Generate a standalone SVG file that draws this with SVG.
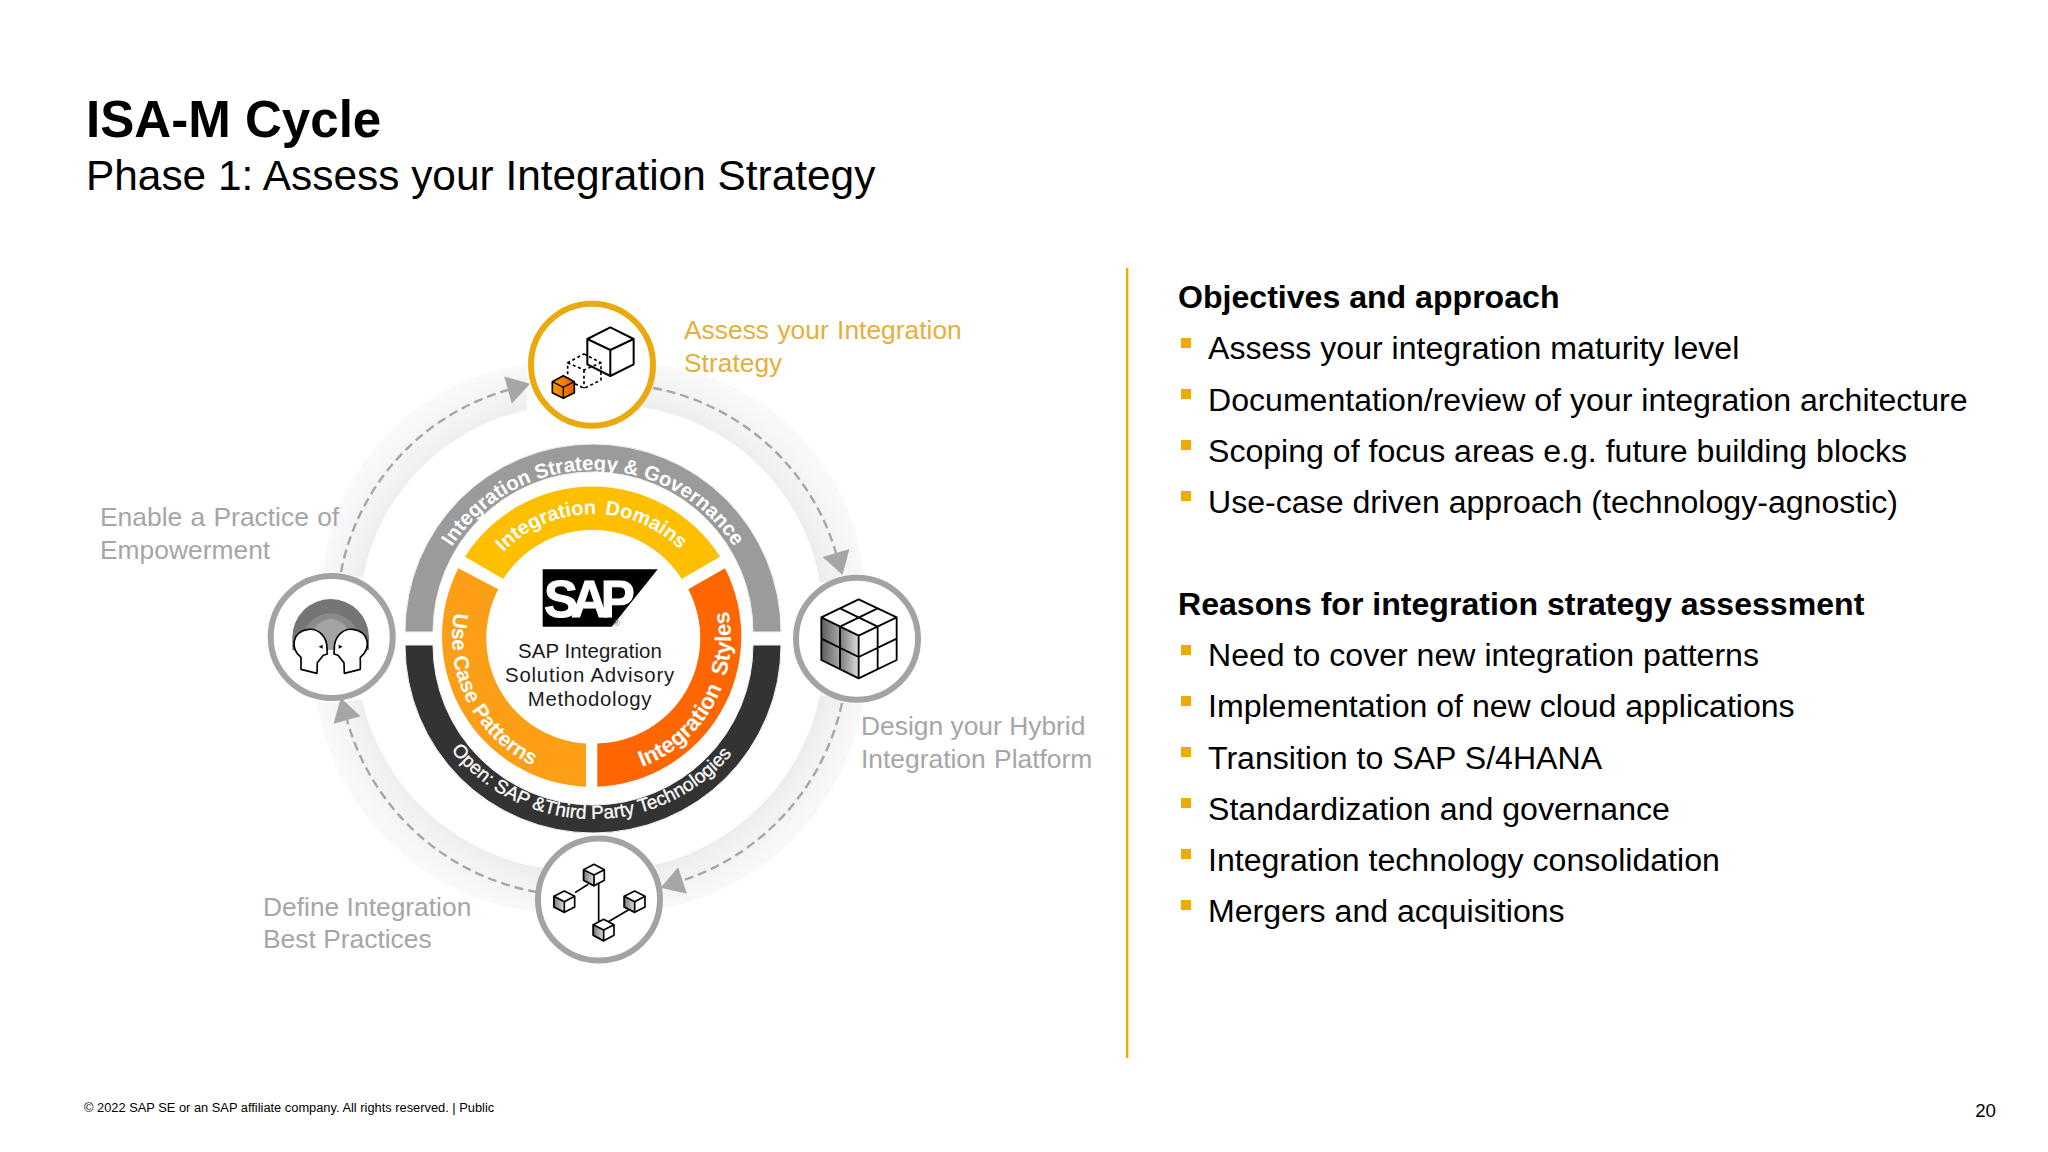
<svg xmlns="http://www.w3.org/2000/svg" width="2048" height="1152" viewBox="0 0 2048 1152">
<style>
text{font-family:"Liberation Sans",Arial,sans-serif}
.title{font-size:51.1px;font-weight:700;fill:#000}
.sub{font-size:42.4px;fill:#000}
.h{font-size:32.1px;font-weight:700;fill:#000}
.b{font-size:32.1px;fill:#000}
.bul{fill:#f0ab00}
.lab{font-size:26.4px;fill:#a6a6a6}
.gold{fill:#e6ae3a}
.ctr{font-size:20.4px;fill:#1a1a1a;text-anchor:middle}
.wt{fill:#fff;font-weight:700}
.dash{fill:none;stroke:#a6a6a6;stroke-width:2.4;stroke-dasharray:9 5;marker-end:url(#ah)}
.band{fill:url(#bg)}
.nc{fill:#fff;stroke:#a3a3a3;stroke-width:6}
.ic{stroke:#000;stroke-width:5;stroke-linejoin:round;fill:#fff}
.seg{stroke:#f0f0f0;stroke-width:1}
</style>
<defs>
<radialGradient id="bg" gradientUnits="userSpaceOnUse" cx="593" cy="638" r="295">
<stop offset=".76" stop-color="#e8e8e8"/><stop offset=".84" stop-color="#f1f1f1"/><stop offset=".93" stop-color="#f7f7f7"/><stop offset="1" stop-color="#fbfbfb"/>
</radialGradient>
<linearGradient id="or" x1="0" x2="1" y1="0" y2="0"><stop offset="0" stop-color="#ff9a00"/><stop offset="1" stop-color="#e65c00"/></linearGradient>
<linearGradient id="g1" x1="0" x2="1" y1="0" y2="0"><stop offset="0" stop-color="#5f5f5f"/><stop offset="1" stop-color="#a8a8a8"/></linearGradient>
<linearGradient id="g2" x1="0" x2="1" y1="0" y2="0"><stop offset="0" stop-color="#7a7a7a"/><stop offset="1" stop-color="#dddddd"/></linearGradient>
<marker id="ah" markerUnits="userSpaceOnUse" markerWidth="26" markerHeight="30" refX="0" refY="14" orient="auto" overflow="visible"><path d="M0,0 L23,14 L0,28Z" fill="#a6a6a6"/></marker>
<path id="pTop" d="M425,638 A168,168 0 0 1 761,638"/>
<path id="pBot" d="M412,638 A181,181 0 0 0 774,638"/>
<path id="pDom" d="M469,638 A124,124 0 0 1 717,638"/>
<path id="pSty" d="M593,776 A138,138 0 0 0 593,500"/>
<path id="pUse" d="M593,497 A141,141 0 0 0 593,779"/>
<g id="cb">
<path class="ic" style="fill:#fff" d="M0,-32 L31,-16 L31,16 L0,32 L-31,16 L-31,-16Z"/>
<path d="M-31,-16 L0,0 L0,32 L-31,16Z" fill="url(#g2)" stroke="#000" stroke-width="5" stroke-linejoin="round"/>
<path d="M0,0 L31,-16" stroke="#000" stroke-width="5" fill="none"/>
</g>
<path id="head" d="M153,322 C120,295 125,245 175,238 C210,235 232,265 231,296 L232,312 L220,316 L202,338 L201,370 L153,358Z" fill="#fff" stroke="#000" stroke-width="5" stroke-linejoin="round"/>
</defs>
<rect width="2048" height="1152" fill="#fff"/>

<g id="header">
<text class="title" x="86" y="137">ISA-M Cycle</text>
<text class="sub" x="86" y="190">Phase 1: Assess your Integration Strategy</text>
</g>

<g id="connectors">
<path class="band" d="M657,365 A232,232 0 0 1 863,573 L820,583 A212,212 0 0 0 640,407Z"/>
<path class="band" d="M863,703 A250,250 0 0 1 663,908 L655,865 A220,220 0 0 0 820,695Z"/>
<path class="band" d="M537,912 A250,250 0 0 1 317,703 L362,700 A220,220 0 0 0 543,868Z"/>
<path class="band" d="M323,573 A232,232 0 0 1 527,365 L527,410 A212,212 0 0 0 363,577Z"/>
<path class="dash" d="M653,388 A235,235 0 0 1 836,553"/>
<path class="dash" d="M842,703 A240,240 0 0 1 682.5,880.5"/>
<path class="dash" d="M537,892 A240,240 0 0 1 347,720"/>
<path class="dash" d="M341,572 A235,235 0 0 1 508,390"/>
</g>

<g id="wheel-strategy">
<path class="seg" fill="#9b9b9b" d="M405,632 A188,188 0 0 1 781,632 L753,632 A160,160 0 0 0 433,632Z"/>
<text class="wt" font-size="20.3"><textPath href="#pTop" startOffset="50%" text-anchor="middle">Integration Strategy &amp; Governance</textPath></text>
</g>
<g id="wheel-open">
<path class="seg" fill="#333333" d="M405,645 A188,188 0 0 0 781,645 L753,645 A160,160 0 0 1 433,645Z"/>
<text fill="#fff" font-size="19" stroke="#fff" stroke-width=".3"><textPath href="#pBot" startOffset="49.6%" text-anchor="middle">Open: SAP &amp;Third Party Technologies</textPath></text>
</g>
<g id="wheel-domains">
<path fill="#fdbf00" d="M465,556.7 A151,151 0 0 1 720,556.7 L681.7,579 A105.5,105.5 0 0 0 503.3,579Z"/>
<text class="wt" font-size="20" word-spacing="3"><textPath href="#pDom" startOffset="49.5%" text-anchor="middle">Integration Domains</textPath></text>
</g>
<g id="wheel-styles">
<path fill="#ff6600" d="M725,568.3 A150.5,150.5 0 0 1 597.3,786.7 L597.3,743.5 A105.5,105.5 0 0 0 688.3,589.3Z"/>
<text class="wt" font-size="22.5" word-spacing="5"><textPath href="#pSty" startOffset="50">Integration Styles</textPath></text>
</g>
<g id="wheel-patterns">
<path fill="#fc9e16" d="M458.3,568.3 A150.5,150.5 0 0 0 586,786.7 L586,743.5 A105.5,105.5 0 0 1 498.3,589.3Z"/>
<text class="wt" font-size="21"><textPath href="#pUse" startOffset="196">Use Case Patterns</textPath></text>
</g>
<g id="center">
<polygon points="542.7,569.3 657.7,569.3 611.7,626.7 542.7,626.7" fill="#000"/>
<text x="544" y="617" font-size="51" font-weight="700" fill="#fff" stroke="#fff" stroke-width="1" letter-spacing="-7">SAP</text>
<text x="613" y="626" font-size="9" fill="#555">®</text>
<text class="ctr" x="590" y="657.5" letter-spacing=".1">SAP Integration</text>
<text class="ctr" x="590" y="681.5" letter-spacing=".8">Solution Advisory</text>
<text class="ctr" x="590" y="705.5" letter-spacing=".7">Methodology</text>
</g>

<g id="node-assess">
<circle class="nc" style="stroke:#e9a90f" cx="592" cy="364.7" r="61"/>
<g transform="translate(500,280) scale(.3333)">
<g fill="none" stroke="#000" stroke-width="5" stroke-dasharray="9 8" stroke-linejoin="round"><path d="M252,222 L303,248 L303,300 L252,325 L203,300 L203,248Z M203,248 L252,270 L303,248 M252,270 L252,325"/></g>
<path d="M331,142 L401,177 L401,253 L331,288 L262,253 L262,177Z M262,177 L331,210 L401,177 M331,210 L331,288" fill="none" stroke="#000" stroke-width="6" stroke-linejoin="round"/>
<path d="M190,287 L223,305 L223,338 L190,355 L157,338 L157,305Z" fill="url(#or)" stroke="#000" stroke-width="5" stroke-linejoin="round"/>
<path d="M157,305 L190,322 L223,305 M190,322 L190,355" fill="none" stroke="#000" stroke-width="4"/>
</g>
<text class="lab gold" x="684" y="339" word-spacing="1">Assess your Integration</text>
<text class="lab gold" x="684" y="372">Strategy</text>
</g>

<g id="node-design">
<circle class="nc" cx="857" cy="638.8" r="61"/>
<g transform="translate(780,560) scale(.3333)">
<path d="M124,172 L180,200 L180,328 L124,300Z" fill="url(#g1)"/>
<path d="M180,200 L236,227 L236,355 L180,328Z" fill="url(#g2)"/>
<path d="M236,118 L350,172 L350,300 L236,355 L124,300 L124,172Z M124,172 L236,227 L350,172 M236,227 L236,355 M180,145 L293,200 M293,145 L180,200 M180,200 L180,328 M124,236 L236,291 L350,236 M293,200 L293,328" fill="none" stroke="#000" stroke-width="5.5" stroke-linejoin="round"/>
</g>
<text class="lab" x="861" y="735">Design your Hybrid</text>
<text class="lab" x="861" y="768" word-spacing="1">Integration Platform</text>
</g>

<g id="node-define">
<circle class="nc" cx="599" cy="899.5" r="61"/>
<g transform="translate(520,820) scale(.3333)">
<path d="M165,218 L205,193 M236,190 L236,305 M265,305 L325,270" stroke="#000" stroke-width="5" fill="none"/>
<use href="#cb" x="222" y="165"/><use href="#cb" x="133" y="245"/><use href="#cb" x="344" y="245"/><use href="#cb" x="251" y="330"/>
</g>
<text class="lab" x="263" y="916">Define Integration</text>
<text class="lab" x="263" y="948">Best Practices</text>
</g>

<g id="node-enable">
<circle class="nc" cx="331.7" cy="637" r="61"/>
<g transform="translate(250,550) scale(.3333)">
<path d="M127,262 A115,115 0 0 1 357,262 L357,300 L127,300Z" fill="#757575"/>
<path d="M157,275 A85,85 0 0 1 327,275 L327,300 L157,300Z" fill="#8a8a8a"/>
<path d="M187,262 A55,55 0 0 1 297,262 L297,300 L187,300Z" fill="#a3a3a3"/>
<use href="#head"/>
<use href="#head" transform="matrix(-1 0 0 1 484 0)"/>
<path d="M206,290 L218,284 L218,296Z M266,284 L278,290 L266,296Z" fill="#000"/>
</g>
<text class="lab" x="100" y="526" word-spacing="1">Enable a Practice of</text>
<text class="lab" x="100" y="559">Empowerment</text>
</g>

<g id="divider"><rect x="1126" y="268" width="2.4" height="790" fill="#f0ab00"/></g>

<g id="panel">
<text class="h" x="1178" y="308">Objectives and approach</text>
<g id="bullets1">
<rect class="bul" x="1181" y="338" width="10" height="10"/><rect class="bul" x="1181" y="389" width="10" height="10"/><rect class="bul" x="1181" y="440" width="10" height="10"/><rect class="bul" x="1181" y="491" width="10" height="10"/>
</g>
<text class="b" x="1208" y="359">Assess your integration maturity level</text>
<text class="b" x="1208" y="410.5">Documentation/review of your integration architecture</text>
<text class="b" x="1208" y="462">Scoping of focus areas e.g. future building blocks</text>
<text class="b" x="1208" y="513">Use-case driven approach (technology-agnostic)</text>
<text class="h" x="1178" y="615">Reasons for integration strategy assessment</text>
<g id="bullets2">
<rect class="bul" x="1181" y="645" width="10" height="10"/><rect class="bul" x="1181" y="696" width="10" height="10"/><rect class="bul" x="1181" y="747" width="10" height="10"/><rect class="bul" x="1181" y="798" width="10" height="10"/><rect class="bul" x="1181" y="849" width="10" height="10"/><rect class="bul" x="1181" y="900" width="10" height="10"/>
</g>
<text class="b" x="1208" y="666">Need to cover new integration patterns</text>
<text class="b" x="1208" y="717.3">Implementation of new cloud applications</text>
<text class="b" x="1208" y="768.6">Transition to SAP S/4HANA</text>
<text class="b" x="1208" y="820">Standardization and governance</text>
<text class="b" x="1208" y="871">Integration technology consolidation</text>
<text class="b" x="1208" y="922">Mergers and acquisitions</text>
</g>

<g id="footer">
<text x="84" y="1112" font-size="12.85" fill="#000">© 2022 SAP SE or an SAP affiliate company. All rights reserved. | Public</text>
<text x="1996" y="1117" font-size="18.7" fill="#000" text-anchor="end">20</text>
</g>
</svg>
